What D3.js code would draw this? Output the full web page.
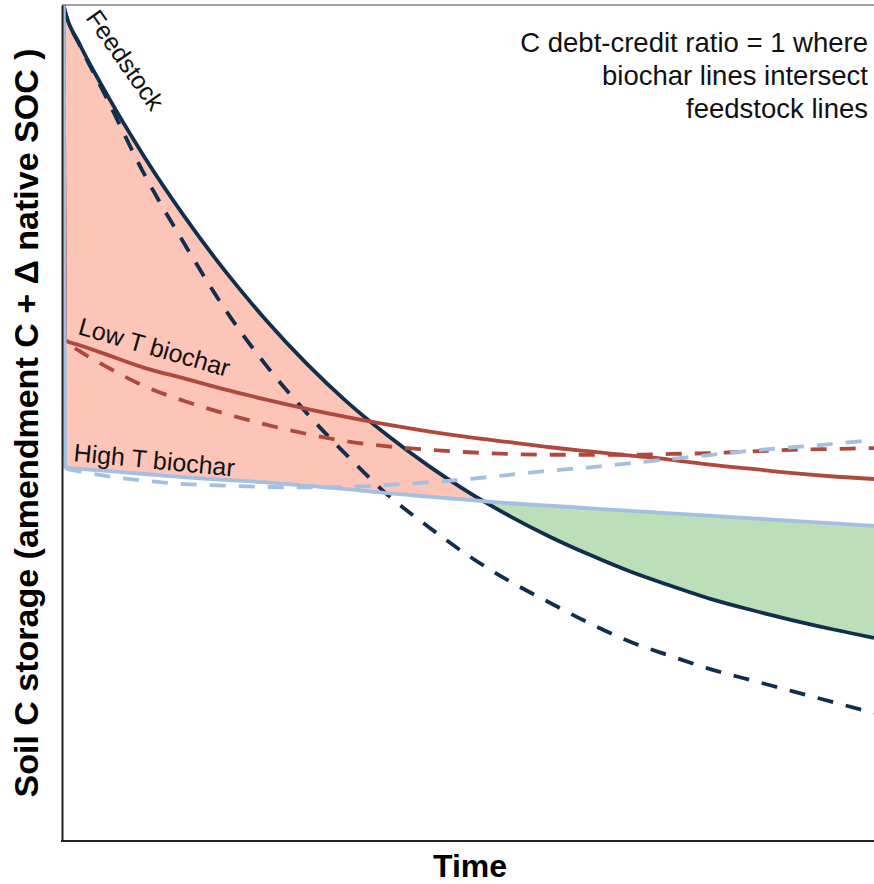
<!DOCTYPE html>
<html>
<head>
<meta charset="utf-8">
<script src="https://cdn.jsdelivr.net/npm/d3@7"></script>
<style>
  body { margin: 0; background: #fff; }
  text { font-family: "Liberation Sans", Arial, sans-serif; }
</style>
</head>
<body>
<div id="chart"></div>
<script>
// time grid (arbitrary units, 0 = application)
const time = [0, 0.2, 2, 5, 10, 15, 20, 25, 30, 35, 40, 45, 50, 55, 60, 65, 70, 75, 80, 85, 90, 95, 100];

// soil C storage, % of initial feedstock C
const feedstock       = [100, 99.2, 95.3, 89.9, 81.8, 74.6, 68.1, 62.3, 57.1, 52.5, 48.5, 44.9, 41.7, 38.9, 36.4, 34.2, 32.2, 30.5, 28.9, 27.6, 26.4, 25.3, 24.3];
const feedstockNative = [100, 99.2, 95.2, 89.5, 79.7, 71.3, 63.5, 56.9, 51.2, 46.1, 41.4, 37.6, 34.1, 31.1, 28.5, 26.0, 23.8, 22.1, 20.5, 19.2, 17.9, 16.6, 15.3];
const lowT            = [100, 59.9, 59.3, 58.3, 56.6, 55.3, 54.0, 52.8, 51.7, 50.7, 49.8, 49.0, 48.3, 47.7, 47.1, 46.6, 46.1, 45.6, 45.0, 44.5, 44.0, 43.6, 43.3];
const lowTNative      = [100, 59.9, 58.6, 56.9, 54.4, 52.6, 51.1, 49.8, 48.7, 47.8, 47.2, 46.8, 46.5, 46.3, 46.2, 46.2, 46.2, 46.3, 46.4, 46.6, 46.8, 46.9, 47.0];
const highT           = [100, 44.7, 44.5, 44.3, 43.9, 43.5, 43.2, 42.9, 42.5, 42.1, 41.6, 41.2, 40.8, 40.4, 40.1, 39.8, 39.5, 39.2, 38.9, 38.6, 38.3, 38.0, 37.7];
const highTNative     = [100, 44.6, 44.2, 43.7, 43.1, 42.7, 42.5, 42.35, 42.3, 42.35, 42.6, 42.9, 43.3, 43.8, 44.3, 44.7, 45.2, 45.7, 46.2, 46.7, 47.1, 47.5, 48.0];

const noteLines = ["C debt-credit ratio = 1 where", "biochar lines intersect", "feedstock lines"];

const width = 874, height = 884;
const m = { left: 62, right: 874, top: 5, bottom: 841 };

const navy = "#112e4e", red = "#b0493d", blue = "#a3bfe2";

const svg = d3.select("#chart").append("svg")
    .attr("width", width)
    .attr("height", height);

const x = d3.scaleLinear().domain([0, 100]).range([m.left + 1.5, m.right]);
const y = d3.scaleLinear().domain([0, 100]).range([m.bottom, m.top]);

const line = d3.line()
    .x((d, i) => x(time[i]))
    .y(d => y(d))
    .curve(d3.curveMonotoneX);

// where high T biochar overtakes feedstock
let tc = 100;
for (let i = 2; i < time.length; i++) {
  const a = feedstock[i - 1] - highT[i - 1], b = feedstock[i] - highT[i];
  if (a > 0 && b <= 0) { tc = time[i - 1] + (time[i] - time[i - 1]) * a / (a - b); break; }
}

const defs = svg.append("defs");
defs.append("clipPath").attr("id", "panel")
  .append("rect").attr("x", m.left).attr("y", m.top).attr("width", m.right - m.left).attr("height", m.bottom - m.top);
defs.append("clipPath").attr("id", "debt")
  .append("rect").attr("x", m.left).attr("y", m.top).attr("width", x(tc) - m.left).attr("height", m.bottom - m.top);
defs.append("clipPath").attr("id", "credit")
  .append("rect").attr("x", x(tc)).attr("y", m.top).attr("width", m.right - x(tc)).attr("height", m.bottom - m.top);

const area = d3.area()
    .x((d, i) => x(time[i]))
    .y0((d, i) => y(highT[i]))
    .y1(d => y(d))
    .curve(d3.curveMonotoneX);

const plot = svg.append("g").attr("clip-path", "url(#panel)");

plot.append("path").datum(feedstock)
    .attr("clip-path", "url(#debt)")
    .attr("fill", "#fdc4b8")
    .attr("d", area);
plot.append("path").datum(feedstock)
    .attr("clip-path", "url(#credit)")
    .attr("fill", "#bcdfba")
    .attr("d", area);

const series = [
  { values: feedstockNative, color: navy, dash: "16,13" },
  { values: feedstock, color: navy, dash: null },
  { values: lowTNative, color: red, dash: "16,13" },
  { values: lowT, color: red, dash: null },
  { values: highTNative, color: blue, dash: "16,13" },
  { values: highT, color: blue, dash: null }
];

plot.selectAll(".series")
  .data(series)
  .enter().append("path")
    .attr("class", "series")
    .attr("fill", "none")
    .attr("stroke", d => d.color)
    .attr("stroke-width", 3.8)
    .attr("stroke-dasharray", d => d.dash)
    .attr("d", d => line(d.values));

// axes: lines only, no ticks
svg.append("g")
    .attr("transform", `translate(0,${m.bottom})`)
    .call(d3.axisBottom(x).tickValues([]).tickSizeOuter(0))
    .select(".domain").attr("stroke", "#222").attr("stroke-width", 2)
    .attr("d", `M${m.left - 1},0H${m.right}`);
svg.append("g")
    .attr("transform", `translate(${m.left},0)`)
    .call(d3.axisLeft(y).tickValues([]).tickSizeOuter(0))
    .select(".domain").attr("stroke", "#222").attr("stroke-width", 2);
svg.append("g")
    .attr("transform", `translate(0,${m.top})`)
    .call(d3.axisTop(x).tickValues([]).tickSizeOuter(0))
    .select(".domain").attr("stroke", "#444").attr("stroke-width", 1.2)
    .attr("d", `M${m.left},0H${m.right}`);

// curve labels
const labels = [
  { text: "Feedstock", px: 118, py: 65, angle: 55, anchor: "middle" },
  { text: "Low T biochar", px: 77, py: 334, angle: 16, anchor: "start" },
  { text: "High T biochar", px: 73, py: 461, angle: 5.5, anchor: "start" }
];
svg.selectAll(".curve-label")
  .data(labels)
  .enter().append("text")
    .attr("class", "curve-label")
    .attr("transform", d => `translate(${d.px},${d.py}) rotate(${d.angle})`)
    .attr("text-anchor", d => d.anchor)
    .attr("font-size", 25)
    .attr("fill", "#111")
    .text(d => d.text);

// note, top right
svg.append("text")
    .attr("text-anchor", "end")
    .attr("font-size", 27.5)
    .attr("fill", "#111")
  .selectAll("tspan")
  .data(noteLines)
  .enter().append("tspan")
    .attr("x", 868)
    .attr("y", (d, i) => 52 + i * 33)
    .text(d => d);

// axis titles
svg.append("text")
    .attr("x", (m.left + m.right) / 2 + 2)
    .attr("y", 877)
    .attr("text-anchor", "middle")
    .attr("font-size", 32)
    .attr("font-weight", "bold")
    .text("Time");

svg.append("text")
    .attr("transform", `translate(38,${(m.top + m.bottom) / 2}) rotate(-90)`)
    .attr("text-anchor", "middle")
    .attr("font-size", 34)
    .attr("font-weight", "bold")
    .text("Soil C storage (amendment C + Δ native SOC )");
</script>
</body>
</html>
